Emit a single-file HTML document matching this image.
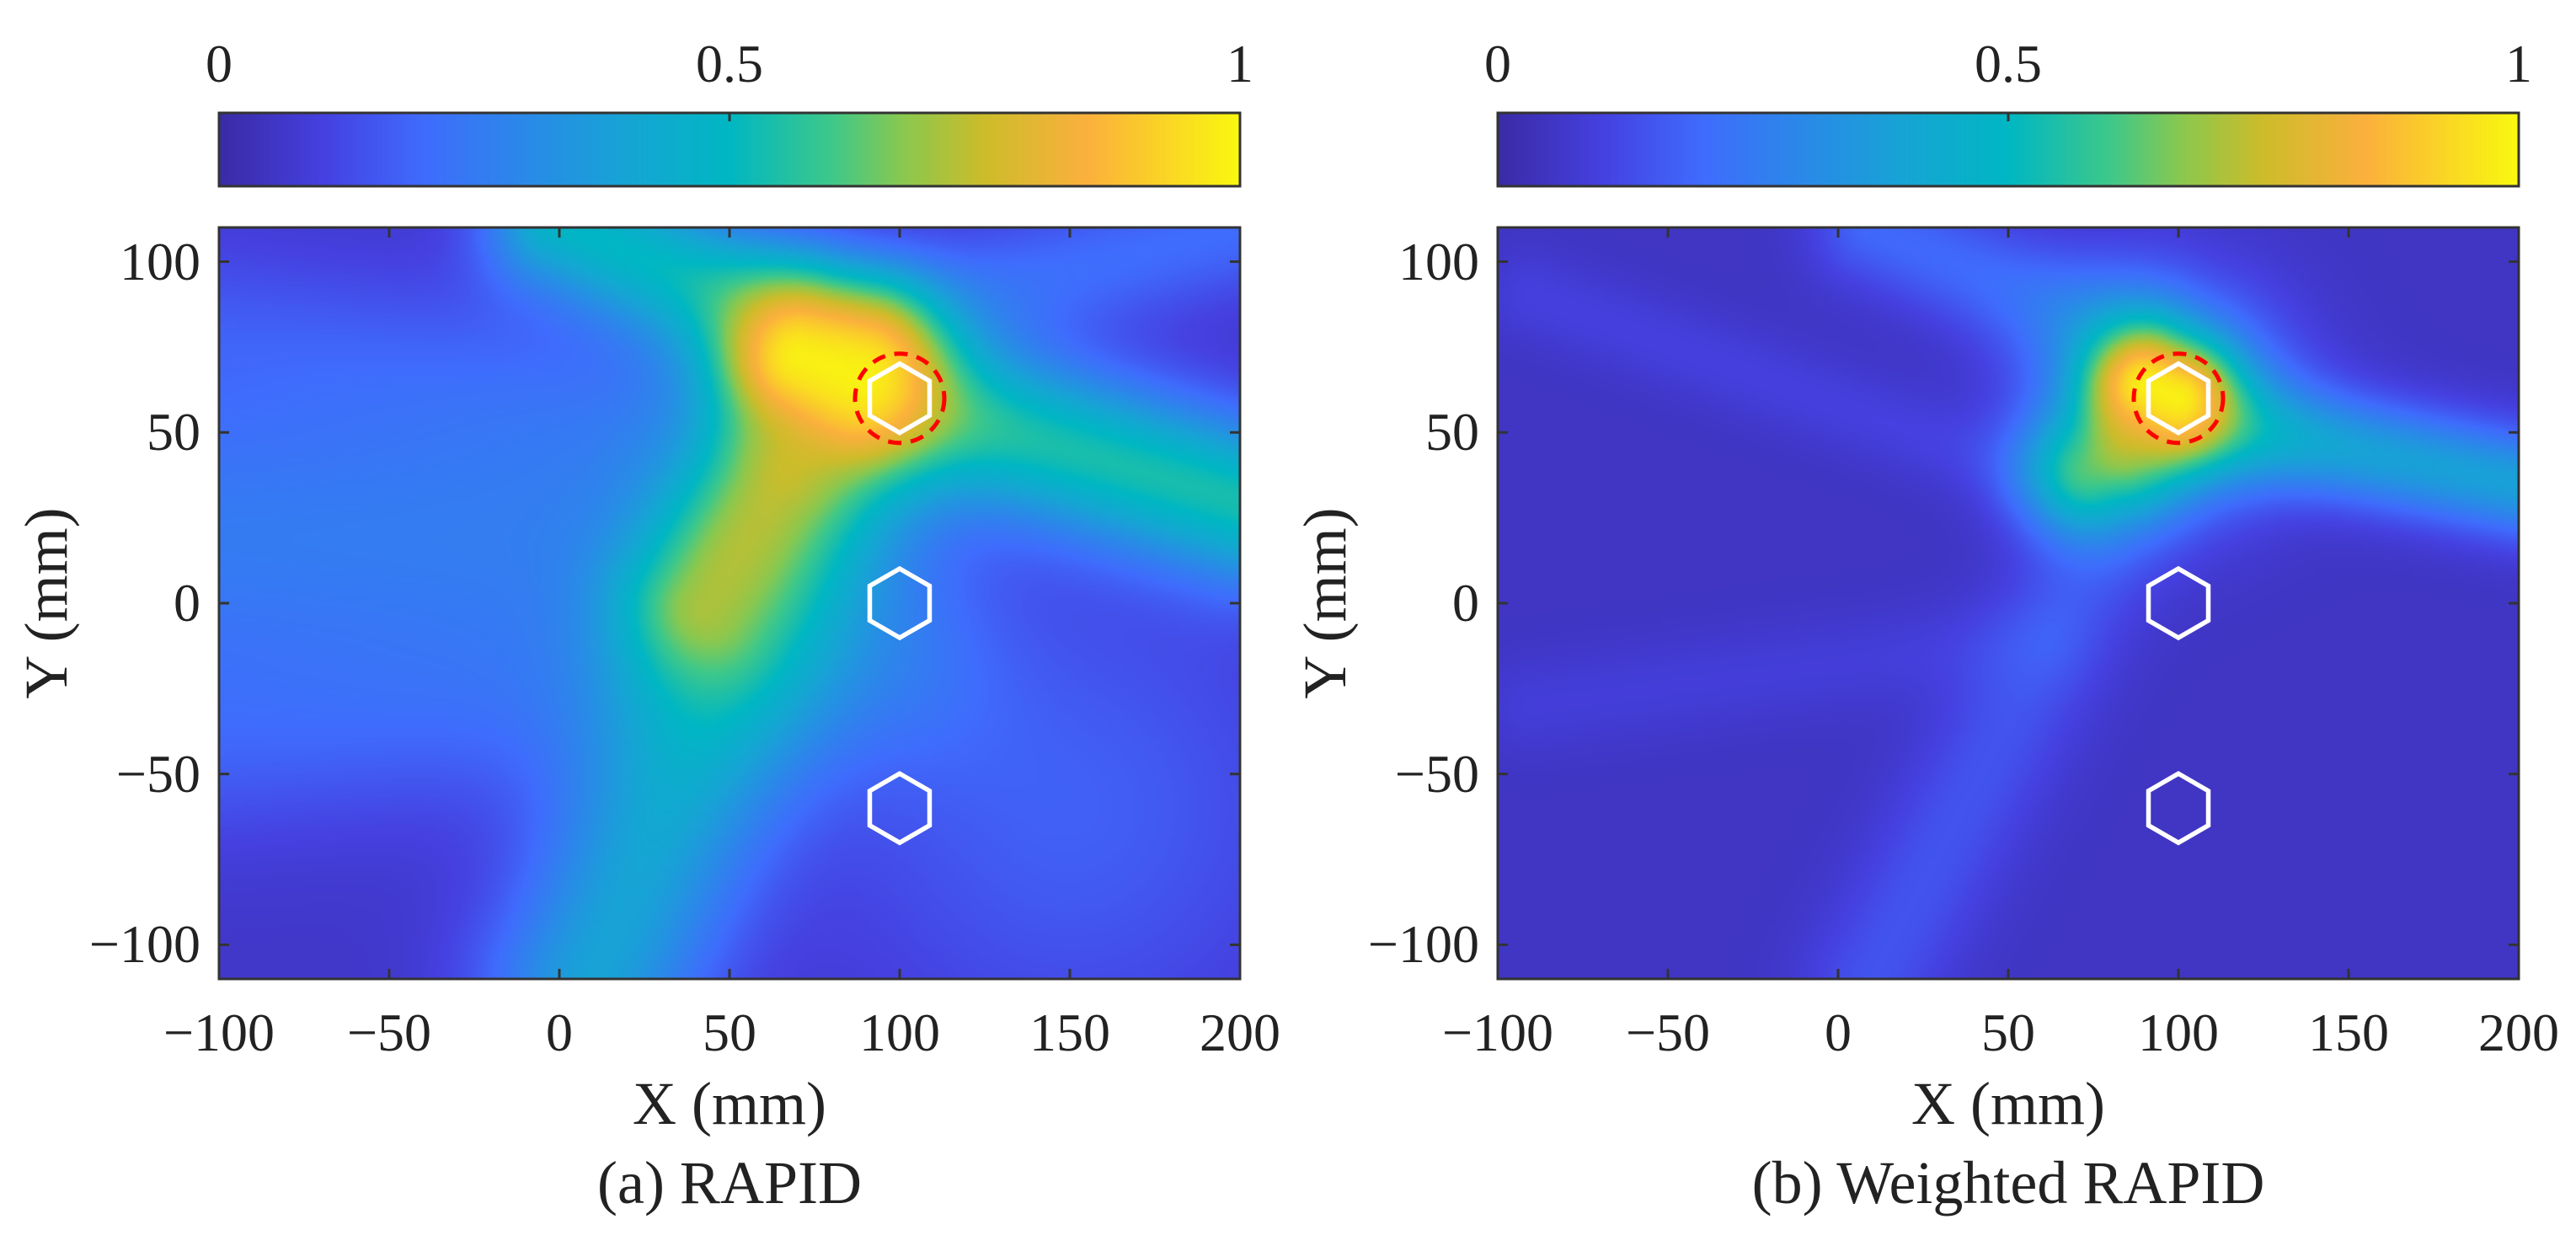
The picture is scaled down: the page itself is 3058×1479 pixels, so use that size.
<!DOCTYPE html>
<html><head><meta charset="utf-8"><style>
body{margin:0;background:#fff;width:3058px;height:1479px;overflow:hidden;position:relative;font-family:"Liberation Serif",serif;color:#222}
canvas{position:absolute}
.t{position:absolute;font-size:64px;line-height:1;white-space:nowrap}
.lab{position:absolute;font-size:72px;line-height:1;white-space:nowrap}
svg{position:absolute;left:0;top:0}
</style></head><body>
<svg id="ov" width="3058" height="1479"></svg>
<script>
// ---- data ----
const xTicks=[-100,-50,0,50,100,150,200];
const yTicks=[-100,-50,0,50,100];
const cbTicks=[0,0.5,1];
const cbTickLabels=["0","0.5","1"];
const sensorX=[100,100,100];
const sensorY=[60,0,-60];
const damageX=[100];
const damageY=[60];
// beam segments for panel A (x1,y1,x2,y2 in mm, width mm, amplitude)
const aBase=0.06;
const aX1=[70,40,80,85,100,100,-100,-100,150,-100];
const aY1=[72,0,50,75,60,85,20,-40,-60,80];
const aX2=[88,62,10,0,200,200,60,100,150,20];
const aY2=[66,35,-110,112,30,110,20,-20,-60,60];
const aW=[16,16,22,15,17,14,35,22,50,20];
const aAmp=[0.95,0.45,0.35,0.45,0.5,0.15,0.2,0.1,0.12,0.08];
// panel B
const bBase=0.05;
const bX1=[90,90,72,100,90,90,-90,-90];
const bY1=[64,64,38,55,75,40,90,-30];
const bX2=[100,100,80,200,10,10,50,60];
const bY2=[60,60,42,35,110,-110,40,-10];
const bW=[11,22,13,11,12,14,9,10];
const bAmp=[0.95,0.35,0.5,0.35,0.15,0.1,0.05,0.04];

const stops=[[0,[58,43,166]],[0.1,[69,64,224]],[0.2,[63,108,253]],[0.3,[42,138,232]],[0.4,[22,165,212]],[0.5,[0,183,195]],[0.6,[62,200,138]],[0.67,[138,200,79]],[0.75,[205,188,42]],[0.85,[251,176,61]],[1,[249,248,15]]];
function cmap(v){v=Math.max(0,Math.min(1,v));for(let i=1;i<stops.length;i++){if(v<=stops[i][0]){const a=stops[i-1],b=stops[i];const t=(v-a[0])/(b[0]-a[0]);return a[1].map((c,k)=>c+(b[1][k]-c)*t);}}return stops[stops.length-1][1];}
function segD(px,py,x1,y1,x2,y2){const dx=x2-x1,dy=y2-y1;const L=dx*dx+dy*dy;let t=L?((px-x1)*dx+(py-y1)*dy)/L:0;t=Math.max(0,Math.min(1,t));const qx=x1+t*dx-px,qy=y1+t*dy-py;return Math.sqrt(qx*qx+qy*qy);}
const NS="http://www.w3.org/2000/svg";
const ov=document.getElementById('ov');
function el(tag,at){const e=document.createElementNS(NS,tag);for(const k in at)e.setAttribute(k,at[k]);ov.appendChild(e);return e;}
function txt(cls,s,x,y,anchor){const d=document.createElement('div');d.className=cls;d.textContent=s;d.style.left=x+'px';d.style.top=y+'px';d.style.transform=anchor;document.body.appendChild(d);return d;}

function panel(L,base,X1,Y1,X2,Y2,W,A,caption,key){
  const R=L+1212,T=270,B=1162;
  const sx=x=>L+(x+100)/300*(R-L);
  const sy=y=>T+(110-y)/220*(B-T);
  const cv=document.createElement('canvas');cv.width=300;cv.height=220;
  cv.style.left=L+'px';cv.style.top=T+'px';cv.style.width=(R-L)+'px';cv.style.height=(B-T)+'px';
  
  
  document.body.insertBefore(cv,ov);
  const ctx=cv.getContext('2d');const img=ctx.createImageData(300,220);
  for(let j=0;j<220;j++)for(let i=0;i<300;i++){
    const x=-100+i+0.5,y=110-j-0.5;let p=1-base;
    for(let k=0;k<X1.length;k++){const d=segD(x,y,X1[k],Y1[k],X2[k],Y2[k]);p*=1-A[k]*Math.exp(-d*d/(2*W[k]*W[k]));}
    const c=cmap(1-p);const o=(j*300+i)*4;img.data[o]=c[0];img.data[o+1]=c[1];img.data[o+2]=c[2];img.data[o+3]=255;}
  ctx.putImageData(img,0,0);
  const fr=el('rect',{x:L,y:T,width:R-L,height:B-T,fill:'none',stroke:'#333','stroke-width':3});
  
  xTicks.forEach(v=>{const x=sx(v);el('line',{x1:x,y1:B,x2:x,y2:B-12,stroke:'#333','stroke-width':3});el('line',{x1:x,y1:T,x2:x,y2:T+12,stroke:'#333','stroke-width':3});
    const t=txt('t',String(v).replace('-','\u2212'),x,1194,'translateX(-50%)');});
  yTicks.forEach(v=>{const y=sy(v);el('line',{x1:L,y1:y,x2:L+12,y2:y,stroke:'#333','stroke-width':3});el('line',{x1:R,y1:y,x2:R-12,y2:y,stroke:'#333','stroke-width':3});
    const t=txt('t',String(v).replace('-','\u2212'),L-22,y,'translate(-100%,-50%)');});
  for(let k=0;k<sensorX.length;k++){const cx=sx(sensorX[k]),cy=sy(sensorY[k]),r=41;let p='';
    for(let m=0;m<6;m++){const a=Math.PI/2+m*Math.PI/3;p+=(cx+r*Math.cos(a)).toFixed(1)+','+(cy-r*Math.sin(a)).toFixed(1)+' ';}
    const h=el('polygon',{points:p,fill:'none',stroke:'#fff','stroke-width':5.5});
    }
  for(let k=0;k<damageX.length;k++){const c=el('circle',{cx:sx(damageX[k]),cy:sy(damageY[k]),r:53,fill:'none',stroke:'#f00','stroke-width':5,'stroke-dasharray':'16 11'});
    }
  const cb=document.createElement('canvas');cb.width=400;cb.height=1;cb.style.left=L+'px';cb.style.top='134px';cb.style.width=(R-L)+'px';cb.style.height='87px';
  
  document.body.insertBefore(cb,ov);const cc=cb.getContext('2d');const ci=cc.createImageData(400,1);
  for(let i=0;i<400;i++){const c=cmap(i/399);ci.data[i*4]=c[0];ci.data[i*4+1]=c[1];ci.data[i*4+2]=c[2];ci.data[i*4+3]=255;}cc.putImageData(ci,0,0);
  el('rect',{x:L,y:134,width:R-L,height:87,fill:'none',stroke:'#333','stroke-width':3});
  cbTicks.forEach((v,i)=>{const x=L+v*(R-L);el('line',{x1:x,y1:134,x2:x,y2:144,stroke:'#333','stroke-width':3});
    const t=txt('t',cbTickLabels[i],x,44,'translateX(-50%)');});
  let t=txt('lab','X (mm)',(L+R)/2,1274,'translateX(-50%)');
  t=txt('lab','Y (mm)',L-205,(T+B)/2,'translate(-50%,-50%) rotate(-90deg)');
  t=txt('lab',caption,(L+R)/2,1368,'translateX(-50%)');
}
panel(260,aBase,aX1,aY1,aX2,aY2,aW,aAmp,'(a) RAPID','panel-a');
panel(1778,bBase,bX1,bY1,bX2,bY2,bW,bAmp,'(b) Weighted RAPID','panel-b');
</script>
</body></html>
